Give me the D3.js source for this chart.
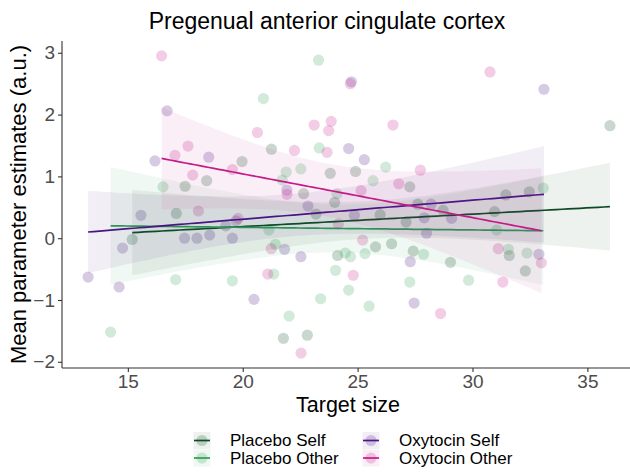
<!DOCTYPE html>
<html>
<head>
<meta charset="utf-8">
<script src="https://cdnjs.cloudflare.com/ajax/libs/d3/7.8.5/d3.min.js"></script>
<style>
body { margin: 0; background: #fff; }
text { font-family: "Liberation Sans", Arial, sans-serif; }
</style>
</head>
<body>
<div id="chart"></div>
<script>
// values, [target size, estimate]
var placeboSelf = [
  [19.97, 1.24], [17.49, 0.84], [18.43, 0.93], [21.25, 1.44], [23.81, 1.05],
  [24.91, 1.08], [27.27, 0.83], [22.65, 0.72], [31.45, 0.70], [32.47, 0.75],
  [35.98, 1.82], [17.11, 0.40], [15.19, -0.02], [24.00, 0.58], [23.19, 0.39],
  [25.98, 0.38], [27.62, 0.55], [27.11, 0.26], [25.78, -0.14], [26.48, -0.09],
  [27.42, -0.21], [24.13, -0.28], [21.77, -1.62], [22.81, -1.57], [28.72, 0.45],
  [30.96, 0.43], [29.04, -0.39], [31.60, -0.28], [32.30, -0.53]
];
var placeboOther = [
  [16.53, 0.83], [23.30, 2.88], [20.90, 2.26], [23.33, 1.46], [26.22, 1.15],
  [21.89, 1.07], [22.53, 1.12], [25.67, 0.93], [21.72, 0.94], [24.10, 0.72],
  [33.08, 0.81], [17.08, -0.67], [19.55, -0.69], [14.25, -1.52], [21.14, 0.13],
  [21.42, -0.10], [27.87, -0.26], [24.46, -0.24], [24.69, -0.30], [25.32, -0.25],
  [24.04, -0.52], [21.35, -0.58], [27.27, -0.71], [24.61, -0.84], [23.39, -0.98],
  [25.50, -1.10], [22.02, -1.26], [31.05, 0.13], [29.83, -0.68], [31.56, -0.18],
  [32.37, -0.24]
];
var oxytocinSelf = [
  [16.71, 2.06], [16.18, 1.25], [18.52, 1.31], [24.73, 2.53], [24.61, 1.45],
  [25.29, 1.27], [21.92, 0.78], [33.11, 2.41], [15.57, 0.37], [19.71, 0.28],
  [19.26, 0.20], [14.77, -0.16], [17.47, 0.00], [18.01, 0.00], [18.56, 0.05],
  [19.55, 0.00], [13.27, -0.63], [14.62, -0.79], [22.84, 0.52], [24.86, 0.37],
  [28.20, 0.55], [27.90, 0.33], [28.00, 0.08], [21.82, -0.18], [22.53, -0.30],
  [27.29, -0.38], [20.49, -0.99], [27.46, -1.05], [29.09, 0.32], [32.89, -0.26]
];
var oxytocinOther = [
  [16.47, 2.95], [17.05, 1.34], [17.62, 1.49], [19.55, 1.11], [17.82, 1.02],
  [24.68, 2.50], [20.64, 1.71], [23.11, 1.83], [23.85, 1.89], [23.74, 1.74],
  [26.54, 1.83], [22.25, 1.42], [23.67, 1.39], [27.73, 1.10], [26.79, 0.88],
  [21.93, 0.71], [25.15, 0.77], [30.76, 2.69], [18.07, 0.44], [19.80, 0.32],
  [24.16, 0.23], [25.22, -0.03], [21.24, -0.17], [21.09, -0.58], [24.81, -0.60],
  [22.54, -1.86], [28.61, -1.22], [31.12, -0.17], [33.00, -0.40], [31.32, -0.71]
];

// fitted lines as drawn in the reference, [x, y] at both ends
var placeboSelfFit = [[15.19, 0.09], [35.98, 0.51]];
var placeboOtherFit = [[14.25, 0.20], [33.08, 0.12]];
var oxytocinSelfFit = [[13.27, 0.10], [33.11, 0.71]];
var oxytocinOtherFit = [[16.47, 1.29], [33.00, 0.12]];

var groupNames = ["Placebo Self", "Placebo Other", "Oxytocin Self", "Oxytocin Other"];
var groupColors = ["#0b4a22", "#2e9e55", "#4a1486", "#c51b8a"];
var groupData = [placeboSelf, placeboOther, oxytocinSelf, oxytocinOther];
var groupFits = [placeboSelfFit, placeboOtherFit, oxytocinSelfFit, oxytocinOtherFit];
var xTicks = [15, 20, 25, 30, 35];
var yTicks = [-2, -1, 0, 1, 2, 3];

var W = 630, H = 472;
var pLeft = 62, pTop = 41, pBottom = 368, pRight = 636;

var allPts = d3.merge(groupData);
var xExt = d3.extent(allPts, function(d) { return d[0]; });
var yExt = d3.extent(allPts, function(d) { return d[1]; });
var xPad = (xExt[1] - xExt[0]) * 0.05, yPad = (yExt[1] - yExt[0]) * 0.05;

var x = d3.scaleLinear().domain([xExt[0] - xPad, xExt[1] + xPad]).range([pLeft, pRight]);
var y = d3.scaleLinear().domain([yExt[0] - yPad, yExt[1] + yPad]).range([pBottom, pTop]);

var svg = d3.select("#chart").append("svg")
  .attr("width", W).attr("height", H);

// 95% band around the fitted line, like geom_smooth(method = "lm")
function band(pts, fit) {
  var n = pts.length;
  var b = (fit[1][1] - fit[0][1]) / (fit[1][0] - fit[0][0]);
  var a = fit[0][1] - b * fit[0][0];
  var mx = d3.mean(pts, function(d) { return d[0]; });
  var sxx = d3.sum(pts, function(d) { return (d[0] - mx) * (d[0] - mx); });
  var rss = d3.sum(pts, function(d) { var r = d[1] - a - b * d[0]; return r * r; });
  var s = Math.sqrt(rss / (n - 2));
  var t = 1.96 + 2.4 / (n - 2);
  return d3.range(81).map(function(i) {
    var xv = fit[0][0] + (fit[1][0] - fit[0][0]) * i / 80;
    var hw = t * s * Math.sqrt(1 / n + (xv - mx) * (xv - mx) / sxx);
    var yv = a + b * xv;
    return { x: xv, y: yv, lo: yv - hw, hi: yv + hw };
  });
}

// points
groupData.forEach(function(pts, gi) {
  svg.append("g").selectAll("circle")
    .data(pts)
    .enter()
    .append("circle")
    .attr("cx", function(d) { return x(d[0]); })
    .attr("cy", function(d) { return y(d[1]); })
    .attr("r", 5.6)
    .attr("fill", groupColors[gi])
    .attr("fill-opacity", 0.22);
});

// smooths
groupData.forEach(function(pts, gi) {
  var sm = band(pts, groupFits[gi]);
  svg.append("path")
    .datum(sm)
    .attr("fill", groupColors[gi])
    .attr("fill-opacity", 0.07)
    .attr("d", d3.area()
      .x(function(d) { return x(d.x); })
      .y0(function(d) { return y(d.lo); })
      .y1(function(d) { return y(d.hi); }));
  svg.append("path")
    .datum(sm)
    .attr("fill", "none")
    .attr("stroke", groupColors[gi])
    .attr("stroke-width", 1.7)
    .attr("d", d3.line()
      .x(function(d) { return x(d.x); })
      .y(function(d) { return y(d.y); }));
});

// axes
var xAxis = svg.append("g")
  .attr("transform", "translate(0," + pBottom + ")")
  .call(d3.axisBottom(x).tickValues(xTicks).tickSize(4).tickPadding(3));
var yAxis = svg.append("g")
  .attr("transform", "translate(" + pLeft + ",0)")
  .call(d3.axisLeft(y).tickValues(yTicks).tickSize(4).tickPadding(3)
    .tickFormat(d3.format("d")));

[xAxis, yAxis].forEach(function(ax) {
  ax.select(".domain").attr("stroke", "#333").attr("stroke-width", 1.1);
  ax.selectAll(".tick line").attr("stroke", "#333").attr("stroke-width", 1.1);
  ax.selectAll(".tick text").attr("fill", "#4d4d4d")
    .style("font-size", "19px").style("font-family", "Liberation Sans, Arial, sans-serif");
});
yAxis.select(".domain").attr("d", "M0," + pTop + "V" + pBottom);
xAxis.select(".domain").attr("d", "M" + pLeft + ",0H" + pRight);

// titles
svg.append("text")
  .attr("x", 327).attr("y", 29)
  .attr("text-anchor", "middle")
  .style("font-size", "23px")
  .text("Pregenual anterior cingulate cortex");

svg.append("text")
  .attr("x", 348).attr("y", 412)
  .attr("text-anchor", "middle")
  .style("font-size", "21.5px")
  .text("Target size");

svg.append("text")
  .attr("transform", "translate(26," + ((pTop + pBottom) / 2) + ") rotate(-90)")
  .attr("text-anchor", "middle")
  .style("font-size", "22px")
  .text("Mean parameter estimates (a.u.)");

// legend
var legPos = [[202, 440.5], [202, 458], [371, 440.5], [371, 458]];
var leg = svg.append("g").selectAll("g")
  .data(groupNames)
  .enter()
  .append("g")
  .attr("transform", function(d, i) { return "translate(" + legPos[i][0] + "," + legPos[i][1] + ")"; });

leg.append("rect")
  .attr("x", -8.5).attr("y", -8.5).attr("width", 17).attr("height", 17)
  .attr("fill", function(d, i) { return groupColors[i]; })
  .attr("fill-opacity", 0.07);
leg.append("circle")
  .attr("r", 5.6)
  .attr("fill", function(d, i) { return groupColors[i]; })
  .attr("fill-opacity", 0.22);
leg.append("line")
  .attr("x1", -8).attr("x2", 8)
  .attr("stroke", function(d, i) { return groupColors[i]; })
  .attr("stroke-width", 1.7);
leg.append("text")
  .attr("x", 28).attr("dy", "0.35em")
  .style("font-size", "17px")
  .text(function(d) { return d; });
</script>
</body>
</html>
